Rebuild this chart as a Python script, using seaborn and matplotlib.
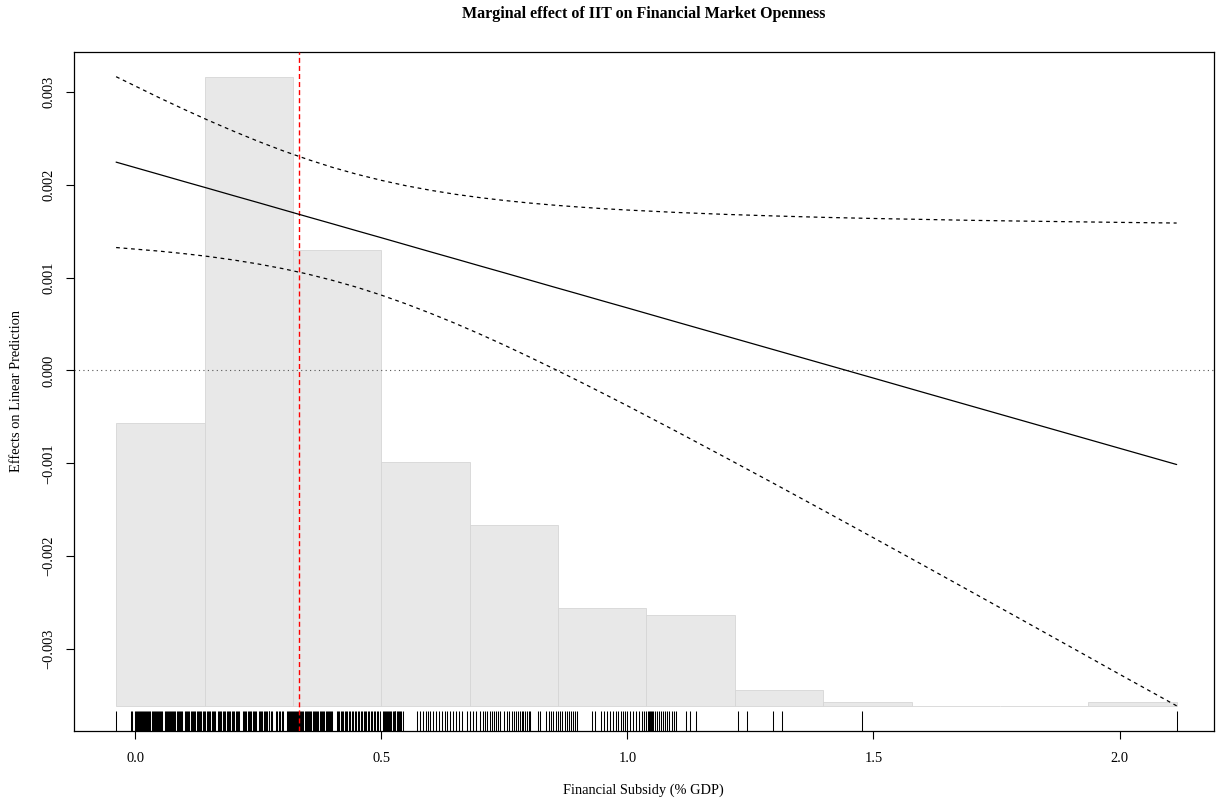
import numpy as np
import pandas as pd
import matplotlib
matplotlib.use("Agg")
import matplotlib.pyplot as plt
import seaborn as sns

# Moderator grid and marginal effect of IIT with its 95% confidence band
moderator = [-0.0386, 0.05, 0.10, 0.15, 0.20, 0.25, 0.30, 0.35, 0.40, 0.45,
             0.50, 0.55, 0.60, 0.65, 0.70, 0.75, 0.80, 0.85, 0.90, 0.95,
             1.00, 1.10, 1.20, 1.30, 1.40, 1.50, 1.60, 1.70, 1.80, 1.90,
             2.00, 2.116]
effect = [0.002244, 0.002110, 0.002034, 0.001959, 0.001883, 0.001808,
          0.001732, 0.001656, 0.001581, 0.001505, 0.001430, 0.001354,
          0.001278, 0.001203, 0.001127, 0.001052, 0.000976, 0.000900,
          0.000825, 0.000749, 0.000674, 0.000522, 0.000371, 0.000220,
          0.000069, -0.000082, -0.000234, -0.000385, -0.000536, -0.000687,
          -0.000838, -0.001013]
upper = [0.003164, 0.002935, 0.002811, 0.002691, 0.002577, 0.002468,
         0.002367, 0.002274, 0.002189, 0.002114, 0.002048, 0.001990,
         0.001941, 0.001898, 0.001862, 0.001831, 0.001804, 0.001781,
         0.001761, 0.001743, 0.001728, 0.001702, 0.001681, 0.001664,
         0.001649, 0.001637, 0.001627, 0.001617, 0.001609, 0.001602,
         0.001595, 0.001588]
lower = [0.001324, 0.001285, 0.001258, 0.001227, 0.001190, 0.001147,
         0.001097, 0.001039, 0.000972, 0.000897, 0.000812, 0.000718,
         0.000616, 0.000508, 0.000393, 0.000273, 0.000148, 0.000020,
         -0.000111, -0.000245, -0.000380, -0.000657, -0.000939, -0.001224,
         -0.001512, -0.001802, -0.002094, -0.002387, -0.002681, -0.002976,
         -0.003272, -0.003612]

# Distribution of financial subsidy (% GDP)
bin_edges = [-0.0386, 0.1410, 0.3205, 0.5001, 0.6796, 0.8592, 1.0387,
             1.2183, 1.3978, 1.5774, 1.7569, 1.9365, 2.1160]
bin_counts = [72, 160, 116, 62, 46, 25, 23, 4, 1, 0, 0, 1]

# Observed subsidy values shown as a rug
subsidy_obs = [
    -0.0386, -0.008, -0.006,
    0.000, 0.002, 0.004, 0.006, 0.008, 0.010, 0.012, 0.014, 0.016, 0.018,
    0.020, 0.022, 0.024, 0.026, 0.028, 0.030, 0.035, 0.037, 0.039, 0.041,
    0.043, 0.045, 0.047, 0.049, 0.051, 0.053, 0.055, 0.061, 0.063, 0.065,
    0.067, 0.069, 0.071, 0.073, 0.075, 0.077, 0.079, 0.081, 0.086, 0.088,
    0.090, 0.092, 0.094, 0.096,
    0.102, 0.104, 0.106, 0.108, 0.110, 0.114, 0.116, 0.118, 0.120, 0.122,
    0.126, 0.128, 0.130, 0.132, 0.134, 0.138, 0.140, 0.142,
    0.146, 0.148, 0.151, 0.153, 0.156, 0.158, 0.161, 0.163, 0.168, 0.170,
    0.173, 0.175, 0.178, 0.180, 0.183, 0.186, 0.188, 0.191, 0.193, 0.196,
    0.199, 0.201, 0.204, 0.207, 0.210, 0.212,
    0.219, 0.221, 0.224, 0.226, 0.229, 0.231, 0.234, 0.236, 0.239, 0.241,
    0.244, 0.246, 0.251, 0.253, 0.256, 0.258, 0.261, 0.263, 0.266, 0.268,
    0.271, 0.273, 0.276, 0.278, 0.287, 0.289, 0.292, 0.295, 0.298, 0.300,
    0.309, 0.311, 0.313, 0.315, 0.317, 0.319, 0.321, 0.323, 0.325, 0.327,
    0.329, 0.331, 0.333, 0.335, 0.337, 0.339, 0.341, 0.345, 0.347, 0.349,
    0.351, 0.353, 0.355, 0.357, 0.361, 0.363, 0.365, 0.367, 0.369, 0.371,
    0.375, 0.377, 0.379, 0.381, 0.383, 0.387, 0.389, 0.391, 0.393, 0.395,
    0.398, 0.401,
    0.410, 0.412, 0.415, 0.418, 0.420, 0.423, 0.426, 0.428, 0.431, 0.434,
    0.437, 0.440, 0.443, 0.446, 0.449, 0.452, 0.455, 0.458, 0.461, 0.464,
    0.467, 0.470, 0.473, 0.476, 0.479, 0.482, 0.485, 0.488, 0.491, 0.494,
    0.497,
    0.504, 0.506, 0.508, 0.510, 0.512, 0.514, 0.516, 0.518, 0.520, 0.523,
    0.525, 0.527, 0.529, 0.532, 0.534, 0.536, 0.539, 0.541, 0.544,
    0.573, 0.578, 0.584, 0.590, 0.595, 0.600, 0.606, 0.612, 0.618, 0.624,
    0.629, 0.634, 0.640, 0.646, 0.652, 0.658, 0.664,
    0.675, 0.681, 0.687, 0.693, 0.700, 0.707, 0.711, 0.715, 0.720, 0.725,
    0.729, 0.733, 0.738, 0.742,
    0.750, 0.755, 0.759, 0.766, 0.770, 0.774, 0.778, 0.781, 0.785, 0.789,
    0.793, 0.797, 0.800, 0.803,
    0.819, 0.823, 0.834, 0.840, 0.845, 0.850, 0.856, 0.860, 0.864, 0.868,
    0.873, 0.877, 0.881, 0.885, 0.890, 0.894, 0.898,
    0.928, 0.934, 0.946, 0.952, 0.958, 0.964, 0.970, 0.976, 0.982, 0.987,
    0.991, 0.995, 0.999,
    1.006, 1.012, 1.018, 1.023, 1.029, 1.034, 1.038,
    1.042, 1.044, 1.046, 1.048, 1.050, 1.053, 1.056, 1.060, 1.064, 1.068,
    1.072, 1.076, 1.080, 1.085, 1.090, 1.094, 1.098,
    1.119, 1.128, 1.140, 1.225, 1.243, 1.296, 1.315, 1.477, 2.116,
]
subsidy_median = 0.3326

x_ticks = [0.0, 0.5, 1.0, 1.5, 2.0]
x_tick_labels = ["0.0", "0.5", "1.0", "1.5", "2.0"]
y_ticks = [-0.003, -0.002, -0.001, 0.000, 0.001, 0.002, 0.003]
y_tick_labels = ["-0.003", "-0.002", "-0.001", "0.000", "0.001", "0.002", "0.003"]

title = "Marginal effect of IIT on Financial Market Openness"
x_label = "Financial Subsidy (% GDP)"
y_label = "Effects on Linear Prediction"

sns.set_theme(style="white")
plt.rcParams["font.family"] = ["Liberation Serif", "DejaVu Serif"]
plt.rcParams["axes.unicode_minus"] = True

fig = plt.figure(figsize=(12.16, 7.99), dpi=100)
ax = fig.add_axes([0.0606, 0.0851, 0.9378, 0.8504])

band = pd.DataFrame({"x": moderator, "effect": effect,
                     "upper": upper, "lower": lower})

# Histogram rescaled into the vertical range of the band
y_low = min(lower)
y_high = max(upper)
edges = np.array(bin_edges)
counts = np.array(bin_counts, dtype=float)
heights = counts / counts.max() * (y_high - y_low)
ax.bar(edges[:-1], heights, width=np.diff(edges), align="edge", bottom=y_low,
       color="#e8e8e8", edgecolor="#d6d6d6", linewidth=0.6, zorder=1)

# Rug of observed values
sns.rugplot(x=subsidy_obs, ax=ax, height=0.03, color="black",
            linewidth=0.75, alpha=1.0, zorder=3)

ax.axhline(0.0, color="#555555", linewidth=0.8, dashes=(1, 3), zorder=2)
ax.axvline(subsidy_median, color="#ff0000", linewidth=1.0,
           dashes=(3.6, 2.2), zorder=4)

sns.lineplot(data=band, x="x", y="effect", ax=ax, color="black",
             linewidth=0.9, zorder=5)
for col in ["upper", "lower"]:
    sns.lineplot(data=band, x="x", y=col, ax=ax, color="black",
                 linewidth=0.9, dashes=False, zorder=5)
for line in ax.lines[-2:]:
    line.set_dashes((3, 3))

xmin, xmax = min(subsidy_obs), max(subsidy_obs)
xpad = 0.04 * (xmax - xmin)
ax.set_xlim(xmin - xpad, 2.192)
ypad = 0.04 * (y_high - y_low)
ax.set_ylim(y_low - ypad, y_high + ypad)

ax.set_xticks(x_ticks)
ax.set_xticklabels(x_tick_labels)
ax.set_yticks(y_ticks)
ax.set_yticklabels([s.replace("-", "\u2212") for s in y_tick_labels],
                   rotation=90, va="center")
ax.tick_params(axis="both", direction="out", length=5.8, width=0.8,
               color="black", labelsize=10.4, labelcolor="black",
               bottom=True, left=True)
ax.tick_params(axis="x", pad=9)
ax.tick_params(axis="y", pad=7.5)

for side in ["left", "right", "top", "bottom"]:
    ax.spines[side].set_visible(True)
    ax.spines[side].set_color("black")
    ax.spines[side].set_linewidth(0.9)

ax.set_xlabel(x_label, fontsize=10.4, labelpad=14, color="black")
ax.set_ylabel(y_label, fontsize=10.4, labelpad=14, color="black")
ax.set_title(title, fontsize=11.5, fontweight="bold", pad=24, color="black")
ax.grid(False)

fig.savefig("out.png", dpi=100, facecolor="white")
